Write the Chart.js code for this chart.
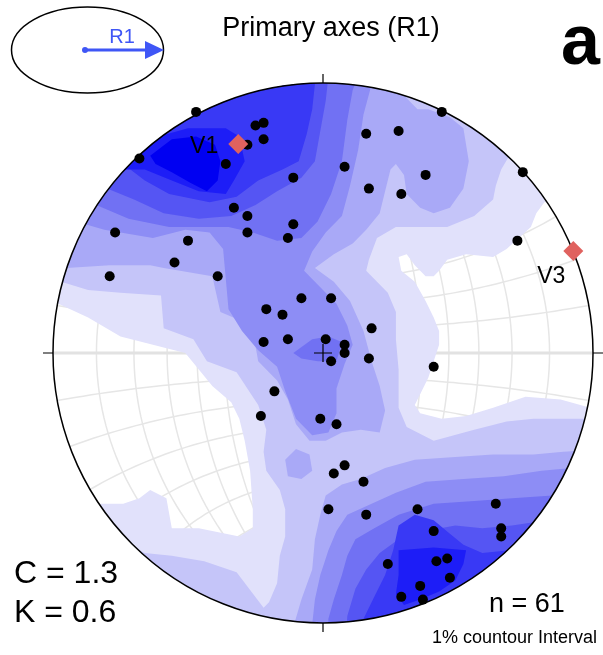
<!DOCTYPE html>
<html>
<head>
<meta charset="utf-8">
<title>Primary axes (R1)</title>
<script src="https://cdn.jsdelivr.net/npm/chart.js@4.4.0/dist/chart.umd.min.js"></script>
<style>
  html, body { margin: 0; padding: 0; background: #fff; }
  canvas { display: block; }
</style>
</head>
<body>
<canvas id="stereonet" width="603" height="655"></canvas>
<script>
// R1 axes in Wulff projection, % of primitive radius
const axesX = [-47, -68, -25, -22, -22, -28, -36, -11, -33, -28, -11, -28, -13, -77, -50, -55, -79, -39, -8, 3, -21, -15, -22, -13, 1, 3,
  44, 16, 28, 8, 38, 17, 29, 74, 72, 18, 8, 8, -18, -23, -1, 5, 8, 4, 15, 2, 16, 35, 64, 41, 66, 66, 24, 42, 46, 47, 36, 29, 37, 17, 41];
const axesY = [88, 71, 83, 84, 78, 76, 69, 64, 53, 50, 47, 44, 42, 44, 41, 33, 28, 28, 20, 20, 16, 14, 4, 5, 5, -3,
  88, 80, 81, 68, 65, 60, 58, 66, 41, 9, 3, 0, -14, -23, -24, -26, -41, -44, -47, -57, -59, -57, -55, -65, -64, -67, -77, -76, -75, -82, -85, -89, -90, -2, -5];

// eigenvectors
const eigenLabels = ['V1', 'V3'];
const eigenX = [-31.4, 92.7];
const eigenY = [76.3, 37.2];

const statC = 1.3;
const statK = 0.6;

// contour fill colours, 1% .. 9%
const levelColors = ['#e1e1fb', '#c5c5f9', '#a9a9f7', '#8d8df5', '#7171f3', '#5555f3', '#3939f5', '#1d1df7', '#0000f2'];

// areas below 1% (holes in the 1% fill)
const below1Left = [[-108,23],[-98,18],[-87,13],[-75,6],[-59,2],[-51,0],[-46,-6],[-41,-12],[-34,-18],[-31,-24],[-29,-32],[-27,-43],[-26,-57],[-26,-64],[-31,-67],[-46,-64],[-56,-64],[-58,-53],[-64,-50],[-68,-53],[-74,-55],[-97,-55],[-108,-61]];
const below1Right = [[82,55],[79,51],[77,46],[68,38],[63,35],[53,36],[46,34],[43,30],[41,28],[38,28],[34,32],[31,36],[28,35],[29,30],[34,26],[38,19],[41,13],[43,8],[43,3],[41,-3],[39,-9],[34,-19],[36,-22],[44,-24],[53,-23],[63,-20],[75,-16],[88,-17],[99,-20],[111,-21],[111,59]];

// areas below 2% (holes in the 2% fill)
const below2Left = [[-108,27],[-97,26],[-87,23],[-75,22],[-60,21],[-59,9],[-48,5],[-43,-3],[-32,-7],[-24,-19],[-21,-28],[-22,-36],[-21,-43],[-16,-50],[-14,-57],[-14,-67],[-16,-74],[-17,-84],[-20,-91],[-22,-93],[-32,-80],[-44,-76],[-56,-74],[-66,-73],[-76,-68],[-108,-76]];
const below2Right = [[74,81],[69,72],[66,67],[64,61],[63,56],[56,50],[46,46],[34,46],[27,46],[20,42],[17,34],[16,30],[19,27],[24,22],[27,15],[27,5],[28,-6],[28,-20],[31,-27],[41,-32],[56,-28],[68,-25],[78,-24],[89,-24],[111,-24],[111,81]];

// areas at or above 3% .. 9%
const level3 = [
  [[-112,31],[-95,31],[-79,32],[-64,32],[-59,31],[-41,28],[-38,15],[-31,12],[-26,8],[-24,-3],[-17,-10],[-13,-17],[-10,-26],[-5,-32],[1,-32],[7,-29],[14,-28],[21,-29],[23,-21],[21,-12],[18,-3],[15,8],[10,19],[4,26],[-3,31],[4,36],[11,40],[16,45],[21,51],[23,59],[25,67],[27,69],[30,65],[31,58],[36,53],[41,51],[47,53],[52,60],[54,70],[52,82],[47,86],[39,89],[35,89],[31,93],[28,98],[27,103],[27,118],[-112,118]],
  [[-10,-35],[-5,-37],[-4,-43],[-8,-46],[-13,-45],[-14,-39]],
  [[-14,-112],[-11,-100],[-8,-90],[-4,-79],[-3,-68],[-1,-59],[1,-52],[7,-48],[14,-46],[23,-42],[34,-39],[49,-38],[63,-37],[78,-37],[89,-36],[107,-35],[107,-112]]
];
const level4 = [
  [[-108,47],[-88,47],[-81,45],[-63,42],[-51,45],[-42,44],[-37,38],[-36,27],[-35,16],[-30,8],[-24,1],[-17,-5],[-14,-14],[-10,-24],[-4,-30],[2,-29],[5,-22],[5,-13],[8,-4],[11,3],[9,10],[5,18],[-1,24],[-7,30],[-4,37],[1,44],[7,50],[10,61],[13,74],[15,87],[18,98],[19,107],[19,118],[-108,118]],
  [[-5,-112],[-4,-99],[-3,-90],[-1,-81],[2,-72],[5,-65],[9,-59],[18,-55],[27,-51],[38,-47],[52,-46],[67,-45],[81,-43],[92,-42],[107,-42],[107,-112]]
];
const level5 = [
  [[-108,54],[-84,54],[-72,49],[-57,46],[-45,46],[-35,46],[-26,44],[-17,41],[-8,42],[-2,48],[3,58],[7,70],[9,85],[11,96],[13,101],[13,114],[-108,114]],
  [[-11,0],[-4,5],[2,6],[7,4],[5,-3],[-2,-3],[-8,-2]],
  [[2,-112],[2,-97],[4,-90],[7,-81],[9,-74],[12,-68],[19,-64],[28,-59],[41,-55],[56,-54],[70,-53],[85,-52],[107,-50],[107,-112]]
];
const level6 = [
  [[-108,61],[-80,60],[-70,56],[-59,51],[-46,49],[-34,50],[-25,54],[-17,59],[-8,64],[-3,70],[-1,81],[1,92],[2,101],[2,114],[-108,114]],
  [[8,-112],[9,-96],[12,-86],[16,-79],[21,-73],[28,-68],[38,-65],[49,-63],[59,-64],[70,-63],[83,-61],[107,-59],[107,-112]]
];
const level7 = [
  [[-108,70],[-74,69],[-66,63],[-57,58],[-42,55],[-32,57],[-24,63],[-15,67],[-9,70],[-6,80],[-4,89],[-3,98],[-3,114],[-108,114]],
  [[12,-112],[15,-97],[19,-89],[23,-81],[26,-72],[28,-63],[34,-59],[41,-61],[47,-66],[52,-70],[59,-73],[69,-72],[78,-70],[100,-68],[100,-112]]
];
const level8 = [
  [[-76,74],[-68,74],[-61,79],[-50,82],[-36,82],[-31,79],[-29,70],[-33,63],[-36,58],[-46,59],[-56,63],[-66,67],[-76,67]],
  [[28,-72],[41,-71],[53,-72],[52,-77],[49,-83],[43,-87],[36,-90],[30,-92],[27,-88],[28,-81]]
];
const level9 = [
  [[-64,72],[-56,78],[-47,79],[-40,76],[-38,70],[-39,63],[-43,59],[-49,62],[-56,66],[-62,69]]
];

const FONT = '"Liberation Sans", Arial, Helvetica, sans-serif';
const ARROW_BLUE = '#3f56f6';

// point on Wulff net (lon/lat about N-S axis) -> % radius
function wulff(lon, lat) {
  const l = lon * Math.PI / 180, f = lat * Math.PI / 180;
  const z = Math.cos(f) * Math.cos(l);
  return [100 * Math.cos(f) * Math.sin(l) / (1 + z), 100 * Math.sin(f) / (1 + z)];
}

const stereonet = {
  id: 'stereonet',
  beforeDatasetsDraw(chart) {
    const { ctx, scales: { x, y } } = chart;
    const cx = x.getPixelForValue(0), cy = y.getPixelForValue(0);
    const r = x.getPixelForValue(100) - cx;
    const ring = pts => {
      pts.forEach((p, i) => {
        const px = x.getPixelForValue(p[0]), py = y.getPixelForValue(p[1]);
        i ? ctx.lineTo(px, py) : ctx.moveTo(px, py);
      });
      ctx.closePath();
    };
    const line = pts => {
      ctx.beginPath();
      pts.forEach((p, i) => {
        const px = x.getPixelForValue(p[0]), py = y.getPixelForValue(p[1]);
        i ? ctx.lineTo(px, py) : ctx.moveTo(px, py);
      });
      ctx.stroke();
    };

    ctx.save();
    ctx.beginPath();
    ctx.arc(cx, cy, r, 0, Math.PI * 2);
    ctx.clip();
    ctx.fillStyle = '#fff';
    ctx.fillRect(cx - r, cy - r, 2 * r, 2 * r);

    // net, 10 degree spacing
    ctx.strokeStyle = '#e6e6e6';
    ctx.lineWidth = 1.5;
    for (let g = -80; g <= 80; g += 10) {
      const mer = [], par = [];
      for (let t = -90; t <= 90; t += 2) {
        mer.push(wulff(g, t));
        par.push(wulff(t, g));
      }
      line(mer);
      if (g !== 0) line(par);
    }
    ctx.lineWidth = 3;
    ctx.strokeStyle = '#e2e2e2';
    line([[-100, 0], [100, 0]]);

    // 1% and 2%: whole disc minus lower areas
    [[below1Left, below1Right], [below2Left, below2Right]].forEach((holes, i) => {
      ctx.beginPath();
      ctx.arc(cx, cy, r + 2, 0, Math.PI * 2);
      holes.forEach(ring);
      ctx.fillStyle = levelColors[i];
      ctx.fill('evenodd');
    });

    [level3, level4, level5, level6, level7, level8, level9].forEach((rings, i) => {
      ctx.fillStyle = levelColors[i + 2];
      rings.forEach(pts => {
        ctx.beginPath();
        ring(pts);
        ctx.fill();
      });
    });
    ctx.restore();

    // primitive, ticks and centre cross
    ctx.save();
    ctx.strokeStyle = '#000';
    ctx.lineWidth = 1.5;
    ctx.beginPath();
    ctx.arc(cx, cy, r, 0, Math.PI * 2);
    ctx.stroke();
    ctx.lineWidth = 1.2;
    ctx.beginPath();
    ctx.moveTo(cx, cy - r - 9); ctx.lineTo(cx, cy - r);
    ctx.moveTo(cx, cy + r); ctx.lineTo(cx, cy + r + 9);
    ctx.moveTo(cx - r - 10, cy); ctx.lineTo(cx - r, cy);
    ctx.moveTo(cx + r, cy); ctx.lineTo(cx + r + 10, cy);
    ctx.moveTo(cx - 9, cy); ctx.lineTo(cx + 9, cy);
    ctx.moveTo(cx, cy - 9); ctx.lineTo(cx, cy + 9);
    ctx.stroke();
    ctx.restore();
  },
  afterDatasetsDraw(chart) {
    const { ctx, scales: { x, y } } = chart;
    const offsets = [[-20, 9], [-8, 32]];
    ctx.save();
    ctx.fillStyle = '#000';
    ctx.font = '23px ' + FONT;
    ctx.textAlign = 'right';
    ctx.textBaseline = 'alphabetic';
    eigenLabels.forEach((lab, i) => {
      ctx.fillText(lab, x.getPixelForValue(eigenX[i]) + offsets[i][0], y.getPixelForValue(eigenY[i]) + offsets[i][1]);
    });
    ctx.restore();
  },
  afterDraw(chart) {
    const ctx = chart.ctx;
    ctx.save();
    ctx.fillStyle = '#000';
    ctx.textBaseline = 'alphabetic';

    ctx.textAlign = 'center';
    ctx.font = '27px ' + FONT;
    ctx.fillText('Primary axes (R1)', 331, 36);

    ctx.textAlign = 'left';
    ctx.font = 'bold 70px ' + FONT;
    ctx.fillText('a', 561, 64);

    ctx.font = '32px ' + FONT;
    ctx.fillText('C = ' + statC.toFixed(1), 14, 583);
    ctx.fillText('K = ' + statK.toFixed(1), 14, 622);

    ctx.font = '27px ' + FONT;
    ctx.fillText('n = ' + axesX.length, 489, 612);
    ctx.font = '18px ' + FONT;
    ctx.fillText('1% countour Interval', 432, 643);

    // strain ellipse with R1 direction
    ctx.strokeStyle = '#000';
    ctx.lineWidth = 1.5;
    ctx.beginPath();
    ctx.ellipse(87.5, 50, 76, 43, 0, 0, Math.PI * 2);
    ctx.stroke();
    ctx.strokeStyle = ARROW_BLUE;
    ctx.fillStyle = ARROW_BLUE;
    ctx.lineWidth = 3;
    ctx.beginPath();
    ctx.moveTo(85, 50); ctx.lineTo(148, 50);
    ctx.stroke();
    ctx.beginPath();
    ctx.moveTo(145, 41); ctx.lineTo(164, 50); ctx.lineTo(145, 59);
    ctx.closePath();
    ctx.fill();
    ctx.beginPath();
    ctx.arc(85, 50, 3, 0, Math.PI * 2);
    ctx.fill();
    ctx.textAlign = 'center';
    ctx.font = '20px ' + FONT;
    ctx.fillText('R1', 122, 43);
    ctx.restore();
  }
};

new Chart(document.getElementById('stereonet'), {
  type: 'scatter',
  data: {
    datasets: [
      {
        label: 'Eigenvectors',
        data: eigenX.map((v, i) => ({ x: v, y: eigenY[i] })),
        pointStyle: 'rectRot',
        pointRadius: 10,
        pointBackgroundColor: '#e0625f',
        pointBorderWidth: 0,
        order: 0
      },
      {
        label: 'R1 axes',
        data: axesX.map((v, i) => ({ x: v, y: axesY[i] })),
        pointRadius: 5,
        pointBackgroundColor: '#000',
        pointBorderWidth: 0,
        order: 1
      }
    ]
  },
  options: {
    responsive: false,
    devicePixelRatio: 1,
    animation: false,
    events: [],
    layout: { padding: { left: 53, top: 79, right: 2, bottom: 28 } },
    plugins: { legend: { display: false }, title: { display: false }, tooltip: { enabled: false } },
    scales: {
      x: { type: 'linear', min: -100, max: 100, display: false },
      y: { type: 'linear', min: -100, max: 100, display: false }
    }
  },
  plugins: [stereonet]
});
</script>
</body>
</html>
